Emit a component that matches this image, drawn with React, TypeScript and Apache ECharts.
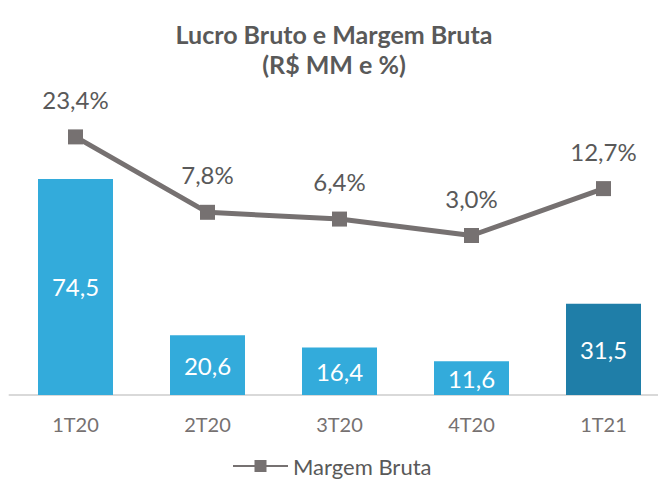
import React, { useEffect, useRef } from "react";
import * as echarts from "echarts";

const categories = ["1T20", "2T20", "3T20", "4T20", "1T21"];
const lucroBruto = [74.5, 20.6, 16.4, 11.6, 31.5];
const margemBruta = [23.4, 7.8, 6.4, 3.0, 12.7];
const barColors = ["#33ABDB", "#33ABDB", "#33ABDB", "#33ABDB", "#1F7EA8"];

const fmt = (v: number, d = 1) => v.toFixed(d).replace(".", ",");

export default function App() {
  const ref = useRef<HTMLDivElement>(null);
  useEffect(() => {
    document.body.style.margin = "0";
    if (!ref.current) return;
    const chart = echarts.init(ref.current, undefined, { renderer: "svg" });
    const font = "Lato, 'Noto Sans', sans-serif";
    chart.setOption({
      animation: false,
      textStyle: { fontFamily: font },
      title: {
        text: "Lucro Bruto e Margem Bruta\n(R$ MM e %)",
        left: 329,
        textAlign: "center",
        top: 14,
        textStyle: {
          fontFamily: font,
          fontSize: 25,
          fontWeight: "bold",
          color: "#595959",
          lineHeight: 30,
          align: "center",
        },
      },
      legend: {
        data: ["Margem Bruta"],
        bottom: 2,
        left: 227,
        itemWidth: 55,
        itemHeight: 15,
        itemGap: 5,
        textStyle: { fontFamily: font, fontSize: 22, color: "#595959" },
      },
      grid: { left: 9.5, top: 105, width: 660, height: 290, containLabel: false },
      xAxis: {
        type: "category",
        data: categories,
        axisLine: { lineStyle: { color: "#D9D9D9", width: 2 } },
        axisTick: { show: false },
        axisLabel: { fontFamily: font, fontSize: 20, color: "#767171", margin: 19 },
      },
      yAxis: [
        { type: "value", min: 0, max: 100, show: false, splitLine: { show: false } },
        { type: "value", min: -30, max: 30, show: false, splitLine: { show: false } },
      ],
      series: [
        {
          name: "Lucro Bruto",
          type: "bar",
          barWidth: 75,
          data: lucroBruto.map((v, i) => ({ value: v, itemStyle: { color: barColors[i] } })),
          label: {
            show: true,
            position: "inside",
            color: "#FFFFFF",
            fontFamily: font,
            fontSize: 24,
            formatter: (p: any) => fmt(p.value),
          },
        },
        {
          name: "Margem Bruta",
          type: "line",
          yAxisIndex: 1,
          data: margemBruta,
          symbol: "rect",
          symbolSize: 15,
          itemStyle: { color: "#767171" },
          lineStyle: { color: "#767171", width: 5 },
          label: {
            show: true,
            position: "top",
            distance: 18,
            color: "#595959",
            fontFamily: font,
            fontSize: 24,
            formatter: (p: any) => fmt(p.value) + "%",
          },
        },
      ],
    });
    return () => chart.dispose();
  }, []);
  return (
    <div style={{ width: 658, height: 484, overflow: "hidden", position: "relative" }}>
      <div ref={ref} style={{ width: 672, height: 484 }} />
    </div>
  );
}
